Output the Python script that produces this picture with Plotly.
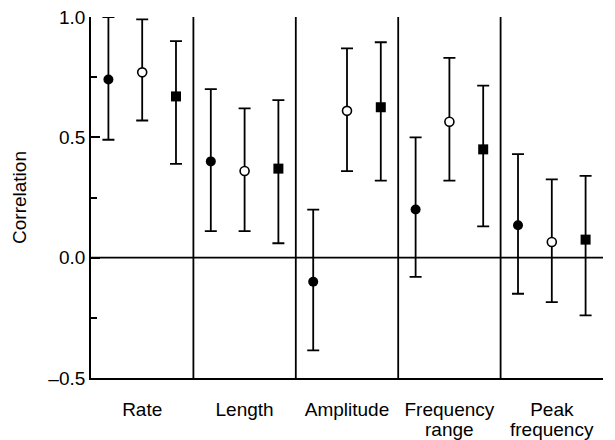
import plotly.graph_objects as go

categories = ["Rate", "Length", "Amplitude", "Frequency range", "Peak frequency"]
# label lines as printed under the axis
label_line1 = ["Rate", "Length", "Amplitude", "Frequency", "Peak"]
label_line2 = ["", "", "", "range", "frequency"]

# series 1: filled circles
s1_value = [0.74, 0.40, -0.10, 0.20, 0.135]
s1_low = [0.49, 0.11, -0.385, -0.08, -0.15]
s1_high = [1.00, 0.70, 0.20, 0.50, 0.43]

# series 2: open circles
s2_value = [0.77, 0.36, 0.61, 0.565, 0.065]
s2_low = [0.57, 0.11, 0.36, 0.32, -0.185]
s2_high = [0.99, 0.62, 0.87, 0.83, 0.325]

# series 3: filled squares
s3_value = [0.67, 0.37, 0.625, 0.45, 0.075]
s3_low = [0.39, 0.06, 0.32, 0.13, -0.24]
s3_high = [0.90, 0.655, 0.895, 0.715, 0.34]

y_tickvals = [-0.5, 0.0, 0.5, 1.0]
y_ticktext = ["\u20130.5", "0.0", "0.5", "1.0"]
y_minor_tickvals = [-0.25, 0.25, 0.75]

offsets = [0.17, 0.5, 0.83]
FONT = "Liberation Sans, Arial, Helvetica, sans-serif"
FS = 19

fig = go.Figure()

series = [
    (s1_value, s1_low, s1_high, dict(symbol="circle", size=10, color="black")),
    (s2_value, s2_low, s2_high, dict(symbol="circle", size=9, color="white",
                                     line=dict(color="black", width=1.6))),
    (s3_value, s3_low, s3_high, dict(symbol="square", size=10, color="black")),
]

n = len(categories)
for k, (vals, lows, highs, marker) in enumerate(series):
    xs = [i + offsets[k] for i in range(n)]
    fig.add_trace(go.Scatter(
        x=xs, y=vals, mode="markers", marker=marker,
        error_y=dict(type="data", symmetric=False,
                     array=[h - v for h, v in zip(highs, vals)],
                     arrayminus=[v - l for v, l in zip(vals, lows)],
                     color="black", thickness=1.8, width=6),
        cliponaxis=False, showlegend=False,
    ))

# group separators and zero line
for i in range(1, n):
    fig.add_shape(type="line", x0=i, x1=i, y0=-0.5, y1=1.0,
                  xref="x", yref="y", line=dict(color="black", width=1.8), layer="below")
fig.add_shape(type="line", x0=0, x1=n, y0=0, y1=0,
              xref="x", yref="y", line=dict(color="black", width=1.8), layer="below")

# second lines of the two-line category labels
for i, txt in enumerate(label_line2):
    if txt:
        fig.add_annotation(x=i + 0.5, xref="x", y=0, yref="paper",
                           yanchor="top", xanchor="center", yshift=-39,
                           text=txt, showarrow=False, font=dict(size=FS))

fig.update_layout(
    width=607, height=432,
    margin=dict(l=83, r=12, t=9, b=62),
    paper_bgcolor="white", plot_bgcolor="white",
    font=dict(family=FONT, size=FS, color="black"),
    xaxis=dict(
        range=[0, n], showgrid=False, zeroline=False,
        showline=True, linecolor="black", linewidth=1.8,
        tickmode="array", tickvals=[i + 0.5 for i in range(n)],
        ticktext=label_line1, ticks="", ticklabelstandoff=13,
        tickfont=dict(size=FS), automargin=False, ticklabeloverflow="allow",
    ),
    yaxis=dict(
        range=[-0.5, 1.0], showgrid=False, zeroline=False,
        showline=True, linecolor="black", linewidth=1.8,
        tickmode="array", tickvals=y_tickvals, ticktext=y_ticktext,
        ticks="inside", ticklen=9, tickwidth=1.8, tickcolor="black",
        minor=dict(tickmode="array", tickvals=y_minor_tickvals, ticks="inside",
                   ticklen=6, tickwidth=1.8, tickcolor="black", showgrid=False),
        tickfont=dict(size=FS), automargin=False, ticklabeloverflow="allow",
        title=dict(text="Correlation", font=dict(size=FS), standoff=17),
    ),
)

fig.write_html("out.html")
